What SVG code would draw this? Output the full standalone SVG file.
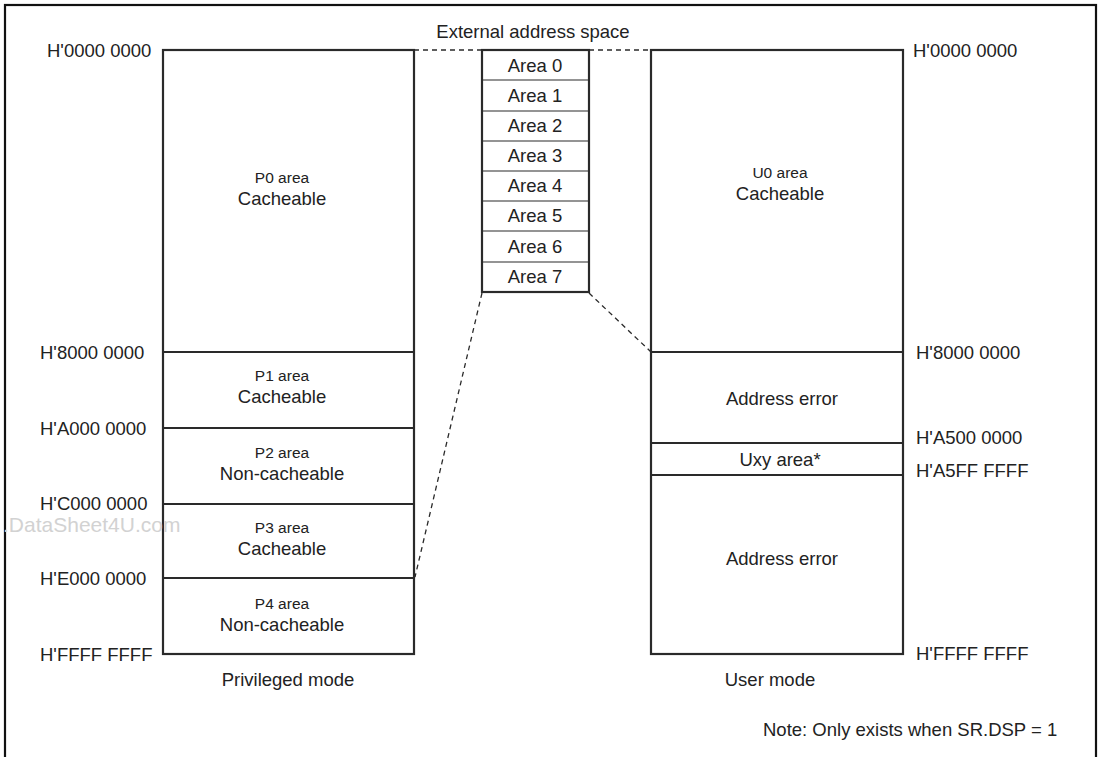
<svg xmlns="http://www.w3.org/2000/svg" width="1103" height="757" viewBox="0 0 1103 757">
<style>
text{font-family:"Liberation Sans",Arial,sans-serif;fill:#222;}
.b{font-size:18.5px;}
.s{font-size:15.5px;}
.m{text-anchor:middle;}
.box{fill:#fff;stroke:#2a2a2a;stroke-width:2.2;}
.div{stroke:#2a2a2a;stroke-width:2.2;fill:none;}
.thin{stroke:#2a2a2a;stroke-width:1.2;fill:none;}
.dash{stroke:#2a2a2a;stroke-width:1.3;fill:none;stroke-dasharray:5 4;}
.wm{font-size:21px;fill:#d2d2d2;}
</style>
<rect x="0" y="0" width="1103" height="757" fill="#fff"/>
<rect x="5" y="5" width="1091" height="780" fill="none" stroke="#111" stroke-width="2.2"/>

<g id="connectors">
<line class="dash" x1="414" y1="50" x2="482" y2="50"/>
<line class="dash" x1="589" y1="50" x2="651" y2="50"/>
<line class="dash" x1="482" y1="293" x2="415" y2="577"/>
<line class="dash" x1="589" y1="293" x2="651" y2="352"/>
</g>

<g id="privileged">
<rect class="box" x="163" y="50" width="251" height="604"/>
<line class="div" x1="163" y1="352" x2="414" y2="352"/>
<line class="div" x1="163" y1="428" x2="414" y2="428"/>
<line class="div" x1="163" y1="504" x2="414" y2="504"/>
<line class="div" x1="163" y1="578" x2="414" y2="578"/>
<text class="s m" x="282" y="183">P0 area</text>
<text class="b m" x="282" y="205">Cacheable</text>
<text class="s m" x="282" y="381">P1 area</text>
<text class="b m" x="282" y="403">Cacheable</text>
<text class="s m" x="282" y="458">P2 area</text>
<text class="b m" x="282" y="480">Non-cacheable</text>
<text class="s m" x="282" y="533">P3 area</text>
<text class="b m" x="282" y="555">Cacheable</text>
<text class="s m" x="282" y="609">P4 area</text>
<text class="b m" x="282" y="631">Non-cacheable</text>
<text class="b" x="47" y="57">H'0000 0000</text>
<text class="b" x="40" y="359">H'8000 0000</text>
<text class="b" x="40" y="435">H'A000 0000</text>
<text class="b" x="40" y="510">H'C000 0000</text>
<text class="b" x="40" y="585">H'E000 0000</text>
<text class="b" x="40" y="661">H'FFFF FFFF</text>
<text class="b m" x="288" y="686">Privileged mode</text>
</g>

<g id="external">
<text class="b m" x="533" y="38">External address space</text>
<rect class="box" x="482" y="50" width="107" height="242"/>
<line class="thin" x1="482" y1="80" x2="589" y2="80"/>
<line class="thin" x1="482" y1="111" x2="589" y2="111"/>
<line class="thin" x1="482" y1="141" x2="589" y2="141"/>
<line class="thin" x1="482" y1="171" x2="589" y2="171"/>
<line class="thin" x1="482" y1="201" x2="589" y2="201"/>
<line class="thin" x1="482" y1="231" x2="589" y2="231"/>
<line class="thin" x1="482" y1="262" x2="589" y2="262"/>
<text class="b m" x="535" y="72">Area 0</text>
<text class="b m" x="535" y="102">Area 1</text>
<text class="b m" x="535" y="132">Area 2</text>
<text class="b m" x="535" y="162">Area 3</text>
<text class="b m" x="535" y="192">Area 4</text>
<text class="b m" x="535" y="222">Area 5</text>
<text class="b m" x="535" y="253">Area 6</text>
<text class="b m" x="535" y="283">Area 7</text>
</g>

<g id="user">
<rect class="box" x="651" y="50" width="252" height="604"/>
<line class="div" x1="651" y1="352" x2="903" y2="352"/>
<line class="div" x1="651" y1="443" x2="903" y2="443"/>
<line class="div" x1="651" y1="475" x2="903" y2="475"/>
<text class="s m" x="780" y="178">U0 area</text>
<text class="b m" x="780" y="200">Cacheable</text>
<text class="b m" x="782" y="405">Address error</text>
<text class="b m" x="780" y="466">Uxy area*</text>
<text class="b m" x="782" y="565">Address error</text>
<text class="b" x="913" y="57">H'0000 0000</text>
<text class="b" x="916" y="359">H'8000 0000</text>
<text class="b" x="916" y="444">H'A500 0000</text>
<text class="b" x="916" y="477">H'A5FF FFFF</text>
<text class="b" x="916" y="660">H'FFFF FFFF</text>
<text class="b m" x="770" y="686">User mode</text>
</g>

<text class="b" x="763" y="736">Note: Only exists when SR.DSP = 1</text>
<text class="wm" x="3" y="532">.DataSheet4U.com</text>
</svg>
